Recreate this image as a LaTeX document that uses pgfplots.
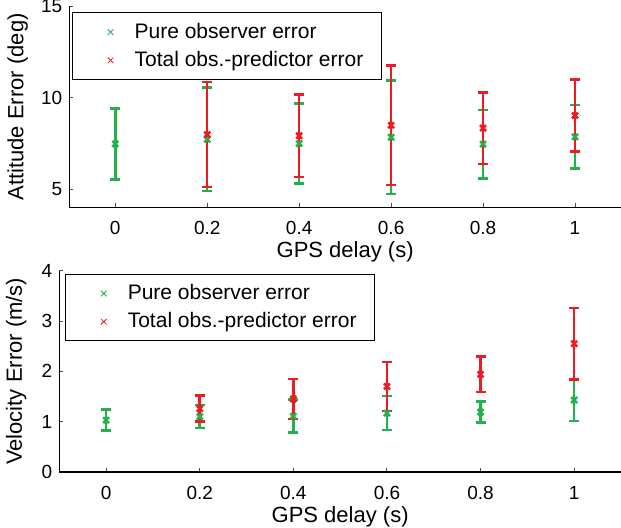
\documentclass[border=0pt]{standalone}
\usepackage{pgfplots}
\pgfplotsset{compat=1.18}
\usepackage{fontspec}
\setmainfont{Liberation Sans}
\definecolor{mgreen}{RGB}{34,177,76}
\definecolor{mred}{RGB}{237,28,36}

\pgfplotsset{
  errax/.style={
    scale only axis,
    axis x line=bottom, axis y line=left,
    axis line style={-, line width=0.6pt},
    tick align=inside, major tick length=2pt,
    tick style={line width=0.5pt, black!70},
    xmin=-0.1, xmax=1.1,
    xtick={0,0.2,0.4,0.6,0.8,1},
    xticklabels={0,0.2,0.4,0.6,0.8,1},
    ticklabel style={font=\fontsize{9.5}{11}\selectfont},
    xticklabel style={yshift=-3.5pt},
    /pgf/number format/assume math mode=true,
    label style={font=\fontsize{11}{13}\selectfont},
    xlabel={GPS delay (s)},
    xlabel style={yshift=3.5pt},
    legend cell align=left,
    legend style={font=\fontsize{10.5}{12}\selectfont, draw=black, line width=0.5pt,
      at={(rel axis cs:0,1)}, anchor=north west,
      inner xsep=6pt, inner ysep=3pt, row sep=1pt,
      nodes={inner xsep=3pt}},
    legend image code/.code={
      \path[draw=none] (0pt,0pt) -- (22pt,0pt);
      \draw[#1, mark size=2pt, line width=0.4pt] plot[only marks, mark=x] coordinates {(13pt,0pt)};
    },
  },
  gser/.style={mgreen, only marks, mark=x, mark size=2.1pt, line width=1.25pt,
    error bars/.cd, y dir=both, y explicit,
    error bar style={line width=1.25pt, mgreen},
    error mark options={mgreen, mark size=2.5pt, line width=1.25pt, rotate=90}},
  rser/.style={mred, only marks, mark=x, mark size=2.1pt, line width=1.25pt,
    error bars/.cd, y dir=both, y explicit,
    error bar style={line width=1.25pt, mred},
    error mark options={mred, mark size=2.5pt, line width=1.25pt, rotate=90}},
}

\begin{document}
\begin{tikzpicture}
\path[use as bounding box] (0pt,0pt) rectangle (310.5pt,264pt);

% attitude
\begin{axis}[errax,
  at={(34.65pt,160.35pt)}, anchor=south west,
  width=275.85pt, height=100.4pt,
  ymin=4, ymax=15, ytick={5,10,15},
  ylabel={Attitude Error (deg)},
  ylabel style={at={(axis description cs:-0.062,0.5)}, anchor=south},
  legend style={xshift=1.4pt, yshift=-3pt},
]
\addplot+[gser] coordinates {
  (0,7.47) +- (0,1.94)
  (0.2,7.72) +- (0,2.83)
  (0.4,7.49) +- (0,2.20)
  (0.6,7.84) +- (0,3.10)
  (0.8,7.46) +- (0,1.87)
  (1,7.86) +- (0,1.73)
};
\addlegendentry{Pure observer error}
\addplot+[rser] coordinates {
  (0.2,7.98) +- (0,2.87)
  (0.4,7.92) +- (0,2.27)
  (0.6,8.49) +- (0,3.27)
  (0.8,8.34) +- (0,1.96)
  (1,9.03) +- (0,1.97)
};
\addlegendentry{Total obs.-predictor error}
\end{axis}

% velocity
\begin{axis}[errax,
  at={(29.65pt,28pt)}, anchor=south west,
  width=280.85pt, height=100.65pt,
  ymin=0, ymax=4, ytick={0,1,2,3,4},
  ylabel={Velocity Error (m/s)},
  ylabel style={at={(axis description cs:-0.046,0.5)}, anchor=south},
  legend style={xshift=3pt, yshift=-1.6pt},
]
\addplot+[gser] coordinates {
  (0,1.03) +- (0,0.21)
  (0.2,1.10) +- (0,0.23)
  (0.4,1.11) +- (0,0.33)
  (0.6,1.17) +- (0,0.34)
  (0.8,1.19) +- (0,0.21)
  (1,1.43) +- (0,0.42)
};
\addlegendentry{Pure observer error}
\addplot+[rser] coordinates {
  (0.2,1.26) +- (0,0.26)
  (0.4,1.45) +- (0,0.40)
  (0.6,1.70) +- (0,0.49)
  (0.8,1.94) +- (0,0.35)
  (1,2.55) +- (0,0.71)
};
\addlegendentry{Total obs.-predictor error}
\end{axis}
\end{tikzpicture}
\end{document}
